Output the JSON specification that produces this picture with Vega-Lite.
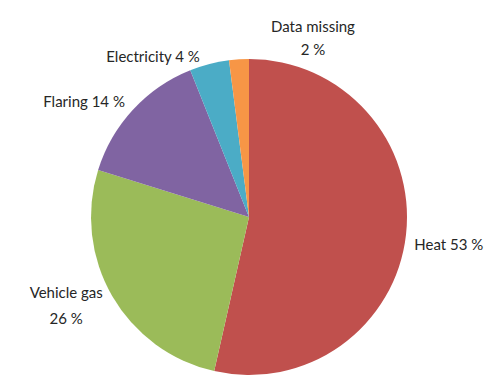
{
  "$schema": "https://vega.github.io/schema/vega-lite/v6.json",
  "width": 316,
  "height": 316,
  "autosize": {"type": "none"},
  "padding": {"left": 91, "top": 59, "right": 86, "bottom": 8},
  "background": "white",
  "config": {"view": {"stroke": null}},
  "data": {"values": [
    {"category": "Heat", "rank": 1, "value": 53, "label": ["Heat 53 %"]},
    {"category": "Vehicle gas", "rank": 2, "value": 26, "label": ["Vehicle gas", "26 %"]},
    {"category": "Flaring", "rank": 3, "value": 14, "label": ["Flaring 14 %"]},
    {"category": "Electricity", "rank": 4, "value": 4, "label": ["Electricity 4 %"]},
    {"category": "Data missing", "rank": 5, "value": 2, "label": ["Data missing", "2 %"]}
  ]},
  "encoding": {
    "theta": {"field": "value", "type": "quantitative", "stack": true},
    "order": {"field": "rank", "type": "quantitative"}
  },
  "layer": [
    {
      "mark": {"type": "arc"},
      "encoding": {
        "color": {"field": "category", "type": "nominal", "legend": null,
          "scale": {"domain": ["Heat", "Vehicle gas", "Flaring", "Electricity", "Data missing"],
                    "range": ["#C0504D", "#9BBB59", "#8064A2", "#4BACC6", "#F79646"]}}
      }
    },
    {
      "mark": {"type": "text", "radius": 201, "dy": 6, "font": "Lato", "fontSize": 15, "color": "#262626"},
      "encoding": {"text": {"condition": {"test": "datum.category === 'Heat'", "field": "label"}, "value": ""}}
    },
    {
      "mark": {"type": "text", "radius": 203, "dx": -7, "dy": -26, "lineHeight": 26, "font": "Lato", "fontSize": 15, "color": "#262626"},
      "encoding": {"text": {"condition": {"test": "datum.category === 'Vehicle gas'", "field": "label"}, "value": ""}}
    },
    {
      "mark": {"type": "text", "radius": 200, "dx": -18, "dy": 21, "font": "Lato", "fontSize": 15, "color": "#262626"},
      "encoding": {"text": {"condition": {"test": "datum.category === 'Flaring'", "field": "label"}, "value": ""}}
    },
    {
      "mark": {"type": "text", "radius": 187, "dx": -49, "dy": 21, "font": "Lato", "fontSize": 15, "color": "#262626"},
      "encoding": {"text": {"condition": {"test": "datum.category === 'Electricity'", "field": "label"}, "value": ""}}
    },
    {
      "mark": {"type": "text", "radius": 190, "dx": 76, "dy": 0, "lineHeight": 23, "font": "Lato", "fontSize": 15, "color": "#262626"},
      "encoding": {"text": {"condition": {"test": "datum.category === 'Data missing'", "field": "label"}, "value": ""}}
    }
  ]
}
